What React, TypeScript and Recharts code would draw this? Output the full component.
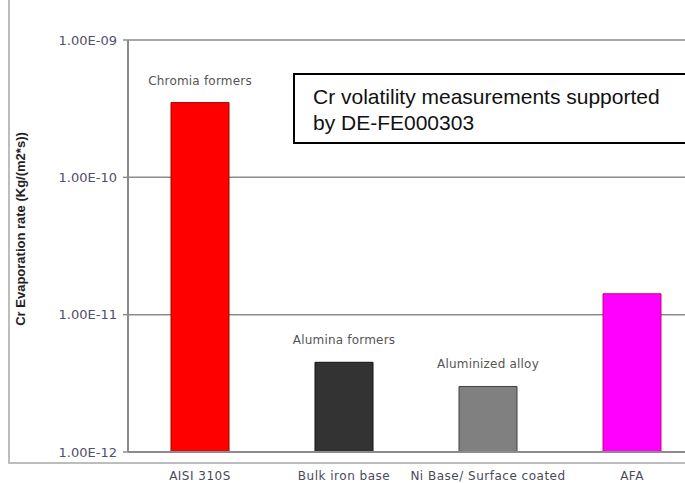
import { BarChart, Bar, XAxis, YAxis, CartesianGrid, Cell, LabelList, Label } from "recharts";

// alloy classes and measured Cr evaporation rates, kg/(m2*s)
const alloys = ["AISI 310S", "Bulk iron base", "Ni Base/ Surface coated", "AFA"];
const rates = [3.5e-10, 4.5e-12, 3.0e-12, 1.42e-11];
const groups = ["Chromia formers", "Alumina formers", "Aluminized alloy", ""];
const yTicks = [1e-12, 1e-11, 1e-10, 1e-9];

const FILLS = ["#ff0000", "#333333", "#808080", "#ff00ff"];
const EDGES = ["#a00000", "#111111", "#404040", "#d0007a"];

const data = alloys.map((name, i) => ({ name, rate: rates[i], group: groups[i] }));

const sci = (v: number) => {
  const [m, e] = v.toExponential(2).split("e");
  const sign = e[0] === "-" ? "-" : "+";
  const digits = e.replace(/^[+-]/, "").padStart(2, "0");
  return `${m}E${sign}${digits}`;
};

const AXIS_GRAY = "#8c8c8c";

// single-line caption above a bar (the default label wraps to bar width)
const GroupCaption = (props: any) => {
  const { x, y, width, value } = props;
  if (!value) return null;
  return (
    <text
      x={Number(x) + Number(width) / 2}
      y={Number(y) - 18}
      textAnchor="middle"
      fill="#555"
      fontSize={12}
      fontFamily="DejaVu Sans"
      letterSpacing={0.2}
    >
      {value}
    </text>
  );
};

export default function App() {
  return (
    <div
      style={{
        position: "fixed",
        left: 0,
        top: 0,
        width: 685,
        height: 483,
        overflow: "hidden",
        background: "#fff",
      }}
    >
      {/* outer chart-area frame */}
      <div
        style={{
          position: "absolute",
          left: 8,
          top: -10,
          width: 800,
          height: 474,
          boxSizing: "border-box",
          borderLeft: "2px solid #bdbdbd",
          borderBottom: "2px solid #bdbdbd",
        }}
      />
      <div style={{ position: "absolute", left: 0, top: 0 }}>
        <BarChart
          width={704}
          height={483}
          data={data}
          margin={{ top: 40, right: 0, bottom: 0, left: 0 }}
        >
          <CartesianGrid
            vertical={false}
            stroke={AXIS_GRAY}
            strokeWidth={1.5}
          />
          <XAxis
            dataKey="name"
            height={31}
            tickLine={false}
            tickSize={0}
            tickMargin={19}
            axisLine={{ stroke: AXIS_GRAY, strokeWidth: 2 }}
            interval={0}
            tick={{
              fill: "#4a4a5a",
              fontSize: 12,
              fontFamily: "DejaVu Sans",
              letterSpacing: 0.5,
            }}
          />
          <YAxis
            type="number"
            scale="log"
            domain={[1e-12, 1e-9]}
            ticks={yTicks}
            allowDataOverflow
            width={128}
            tickSize={5}
            tickMargin={6}
            tickFormatter={sci}
            axisLine={{ stroke: AXIS_GRAY, strokeWidth: 2 }}
            tickLine={{ stroke: AXIS_GRAY, strokeWidth: 1.5 }}
            tick={{ fill: "#505068", fontSize: 13, fontFamily: "DejaVu Sans" }}
          >
            <Label
              content={({ viewBox }: any) => {
                const cx = 20;
                const cy = viewBox.y + viewBox.height / 2 - 17;
                return (
                  <text
                    x={cx}
                    y={cy}
                    transform={`rotate(-90 ${cx} ${cy})`}
                    textAnchor="middle"
                    dominantBaseline="central"
                    fontFamily="Liberation Sans, Arial, sans-serif"
                    fontWeight="bold"
                    fontSize={13}
                    fill="#222"
                  >
                    Cr Evaporation rate (Kg/(m2*s))
                  </text>
                );
              }}
            />
          </YAxis>
          <Bar dataKey="rate" barSize={58} isAnimationActive={false}>
            {data.map((_, i) => (
              <Cell key={i} fill={FILLS[i]} stroke={EDGES[i]} strokeWidth={1} />
            ))}
            <LabelList dataKey="group" content={GroupCaption} />
          </Bar>
        </BarChart>
      </div>
      {/* funding note */}
      <div
        style={{
          position: "absolute",
          left: 293,
          top: 73,
          width: 440,
          height: 71,
          boxSizing: "border-box",
          border: "2px solid #000",
          background: "#fff",
          padding: "9px 0 0 18px",
          fontFamily: "Liberation Sans, Arial, sans-serif",
          fontSize: 21,
          lineHeight: "26px",
          color: "#111",
        }}
      >
        Cr volatility measurements supported
        <br />
        by DE-FE000303
      </div>
    </div>
  );
}
